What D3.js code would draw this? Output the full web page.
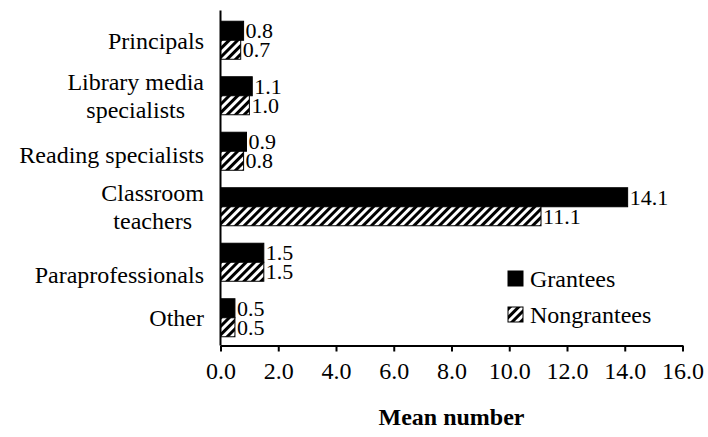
<!DOCTYPE html>
<html>
<head>
<meta charset="utf-8">
<script src="https://cdn.jsdelivr.net/npm/d3@7"></script>
<style>
  html, body { margin: 0; padding: 0; background: #fff; }
  svg { display: block; }
  svg text { font-family: "Liberation Serif", "Noto Serif", "DejaVu Serif", "Nimbus Roman", "TeX Gyre Termes", FreeSerif, Tinos, "Times New Roman", Times, serif; fill: #000; }
</style>
</head>
<body>
<svg id="chart" width="708" height="437"></svg>
<script>
// Staff roles, top to bottom
const categories = ["Principals", "Library media specialists", "Reading specialists",
                    "Classroom teachers", "Paraprofessionals", "Other"];
// Label lines for each role
const categoryLines = [["Principals"], ["Library media", "specialists"], ["Reading specialists"],
                       ["Classroom", "teachers"], ["Paraprofessionals"], ["Other"]];
const seriesNames = ["Grantees", "Nongrantees"];
const grantees    = [0.8, 1.1, 0.9, 14.1, 1.5, 0.5];
const nongrantees = [0.7, 1.0, 0.8, 11.1, 1.5, 0.5];
const xTicks = [0, 2, 4, 6, 8, 10, 12, 14, 16];
const xTitle = "Mean number";

const svg = d3.select("#chart");
const FS = 24;
const VFS = 22;

// diagonal hatch for nongrantees
const defs = svg.append("defs");
const pat = defs.append("pattern")
  .attr("id", "hatch")
  .attr("patternUnits", "userSpaceOnUse")
  .attr("width", 6).attr("height", 6)
  .attr("patternTransform", "rotate(45)");
pat.append("rect").attr("width", 6).attr("height", 6).attr("fill", "#fff");
pat.append("rect").attr("width", 3).attr("height", 6).attr("fill", "#000");

const x = d3.scaleLinear().domain([0, 16]).range([220.5, 682.5]);
const y = d3.scaleBand().domain(categories).range([12.5, 345.5])
  .paddingInner(0.315).paddingOuter(0.1575);
const ySub = d3.scaleBand().domain(seriesNames).range([0, y.bandwidth()]);

const rows = categories.map((c, i) => ({
  cat: c, lines: categoryLines[i],
  vals: [{s: "Grantees", v: grantees[i]}, {s: "Nongrantees", v: nongrantees[i]}]
}));

const fmt = d3.format(".1f");

const g = svg.append("g");
const groups = g.selectAll("g.row").data(rows).enter().append("g")
  .attr("class", "row")
  .attr("transform", d => `translate(0,${y(d.cat)})`);

groups.selectAll("rect").data(d => d.vals).enter().append("rect")
  .attr("x", x(0))
  .attr("y", d => ySub(d.s))
  .attr("width", d => x(d.v) - x(0))
  .attr("height", ySub.bandwidth())
  .attr("fill", d => d.s === "Grantees" ? "#000" : "url(#hatch)")
  .attr("stroke", "#000")
  .attr("stroke-width", 1);

groups.selectAll("text.val").data(d => d.vals).enter().append("text")
  .attr("class", "val")
  .attr("x", d => x(d.v) + 2)
  .attr("y", d => ySub(d.s) + ySub.bandwidth() / 2)
  .attr("dy", "0.35em")
  .attr("font-size", VFS)
  .text(d => fmt(d.v));

// category labels: multi-line labels are centred within their block, block right-aligned
const labelRight = 204;
const lineH = 28;
const labelShift = {"Paraprofessionals": 12, "Reading specialists": 3};
categories.forEach((c, i) => {
  const lines = categoryLines[i];
  const cy = y(c) + y.bandwidth() / 2 + (labelShift[c] || 0);
  const tg = svg.append("g");
  const texts = lines.map((ln, k) => tg.append("text")
    .attr("font-size", FS)
    .attr("y", cy + (k - (lines.length - 1) / 2) * lineH)
    .attr("dy", "0.35em")
    .attr("text-anchor", "middle")
    .text(ln));
  const widths = texts.map(t => t.node().getComputedTextLength());
  const w = d3.max(widths);
  texts.forEach(t => t.attr("x", labelRight - w / 2));
});

// x axis
const xAxis = d3.axisBottom(x).tickValues(xTicks).tickFormat(fmt).tickSize(6).tickSizeOuter(0);
const ax = svg.append("g").attr("transform", `translate(0,${y.range()[1]})`).call(xAxis);
ax.attr("font-family", null);
ax.select(".domain").attr("stroke", "#000").attr("stroke-width", 2);
ax.selectAll(".tick line").attr("stroke", "#000").attr("stroke-width", 2);
ax.selectAll(".tick text")
  .attr("font-size", FS)
  .attr("fill", "#000")
  .attr("y", 16);

// y axis line (no ticks)
svg.append("line")
  .attr("x1", x(0)).attr("x2", x(0))
  .attr("y1", y.range()[0] - 2).attr("y2", y.range()[1])
  .attr("stroke", "#000").attr("stroke-width", 2);

svg.append("text")
  .attr("x", (x(0) + x(16)) / 2)
  .attr("y", 425)
  .attr("text-anchor", "middle")
  .attr("font-size", FS)
  .attr("font-weight", "bold")
  .text(xTitle);

// legend
const legend = svg.append("g").attr("transform", "translate(508,271)");
seriesNames.forEach((s, i) => {
  const lg = legend.append("g").attr("transform", `translate(0,${i * 36})`);
  lg.append("rect").attr("width", 15).attr("height", 15)
    .attr("fill", s === "Grantees" ? "#000" : "url(#hatch)")
    .attr("stroke", "#000").attr("stroke-width", 1);
  lg.append("text").attr("x", 22).attr("y", 7.5).attr("dy", "0.35em")
    .attr("font-size", FS).text(s);
});
</script>
</body>
</html>
